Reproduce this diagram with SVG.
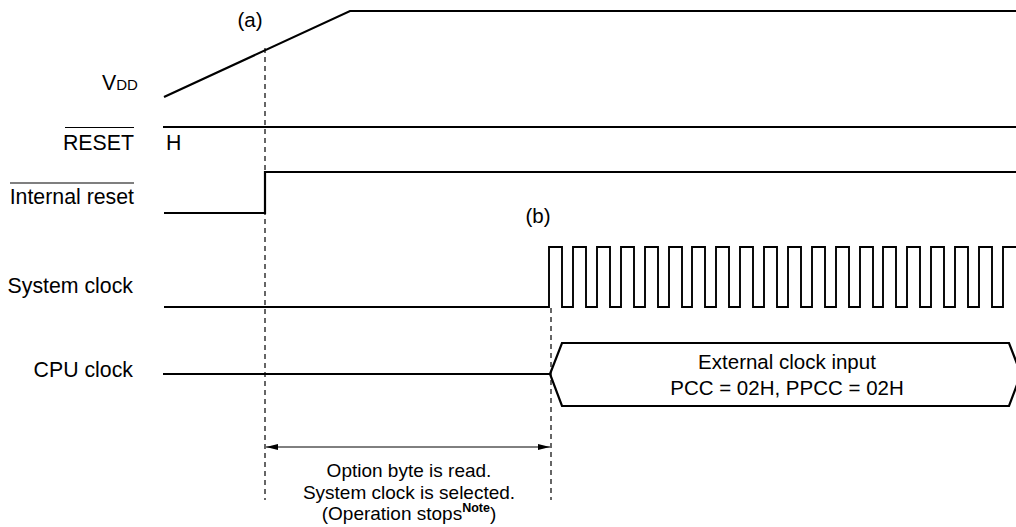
<svg xmlns="http://www.w3.org/2000/svg" width="1016" height="527" viewBox="0 0 1016 527">
<defs>
<style>
.sig{fill:none;stroke:#000;stroke-width:2.2;stroke-linejoin:miter}
.clk{fill:none;stroke:#000;stroke-width:1.9}
.ov{stroke:#000;stroke-width:1.2}
.dash{stroke:#000;stroke-width:1.2;stroke-dasharray:5,4;fill:none}
.t{font-family:"Liberation Sans",Arial,sans-serif;font-size:20.5px;fill:#000}
.l{font-family:"Liberation Sans",Arial,sans-serif;font-size:21.3px;fill:#000}
.s{font-family:"Liberation Sans",Arial,sans-serif;font-size:19px;fill:#000}
</style>
<marker id="ah" viewBox="0 0 12 6" refX="12" refY="3" markerWidth="12" markerHeight="6" markerUnits="userSpaceOnUse" orient="auto-start-reverse">
<path d="M0,0 L12,3 L0,6 Z" fill="#000"/>
</marker>
</defs>
<rect width="1016" height="527" fill="#fff"/>
<g id="labels">
<text class="l" x="102" y="90">V<tspan font-size="15">DD</tspan></text>
<text class="l" x="134" y="150" text-anchor="end">RESET</text>
<line class="ov" x1="65" y1="127.5" x2="134" y2="127.5"/>
<text class="l" x="134" y="204" text-anchor="end">Internal reset</text>
<line class="ov" x1="10" y1="183" x2="134" y2="183"/>
<text class="l" x="133" y="293" text-anchor="end">System clock</text>
<text class="l" x="133" y="377" text-anchor="end">CPU clock</text>
<text class="t" x="250" y="27" text-anchor="middle">(a)</text>
<text class="t" x="538" y="223" text-anchor="middle">(b)</text>
<text class="l" x="166" y="150">H</text>
</g>
<g id="vdd">
<polyline class="sig" points="164,97 350,11 1016,11"/>
</g>
<g id="reset">
<line class="sig" x1="163" y1="127" x2="1016" y2="127"/>
</g>
<g id="internal-reset">
<polyline class="sig" points="164,213 265,213 265,172 1016,172"/>
</g>
<g id="system-clock">
<path class="clk" d="M164,307 H549 V247 H562 V307 H573 V247 H586 V307 H597 V247 H610 V307 H621 V247 H634 V307 H645 V247 H658 V307 H669 V247 H682 V307 H692 V247 H705 V307 H716 V247 H729 V307 H740 V247 H753 V307 H764 V247 H777 V307 H788 V247 H801 V307 H812 V247 H825 V307 H836 V247 H849 V307 H860 V247 H873 V307 H883 V247 H896 V307 H907 V247 H920 V307 H931 V247 H944 V307 H955 V247 H968 V307 H979 V247 H992 V307 H1003 V247 H1016"/>
</g>
<g id="cpu-clock">
<line class="sig" x1="163" y1="374" x2="550" y2="374"/>
<polygon class="sig" points="550,374 562,343 1009,343 1021,374 1009,406 562,406"/>
<text class="t" x="787" y="369" text-anchor="middle">External clock input</text>
<text class="t" x="787" y="395" text-anchor="middle">PCC = 02H, PPCC = 02H</text>
</g>
<g id="connectors">
<line class="dash" x1="265" y1="48" x2="265" y2="500"/>
<line class="dash" x1="551" y1="308" x2="551" y2="500"/>
<line x1="266" y1="447" x2="550" y2="447" stroke="#000" stroke-width="1" marker-start="url(#ah)" marker-end="url(#ah)"/>
</g>
<g id="note">
<text class="s" x="409" y="477" text-anchor="middle">Option byte is read.</text>
<text class="s" x="409" y="499" text-anchor="middle">System clock is selected.</text>
<text class="s" x="409" y="520" text-anchor="middle">(Operation stops<tspan font-size="12.5" font-weight="bold" dy="-8">Note</tspan><tspan dy="8">)</tspan></text>
</g>
</svg>
